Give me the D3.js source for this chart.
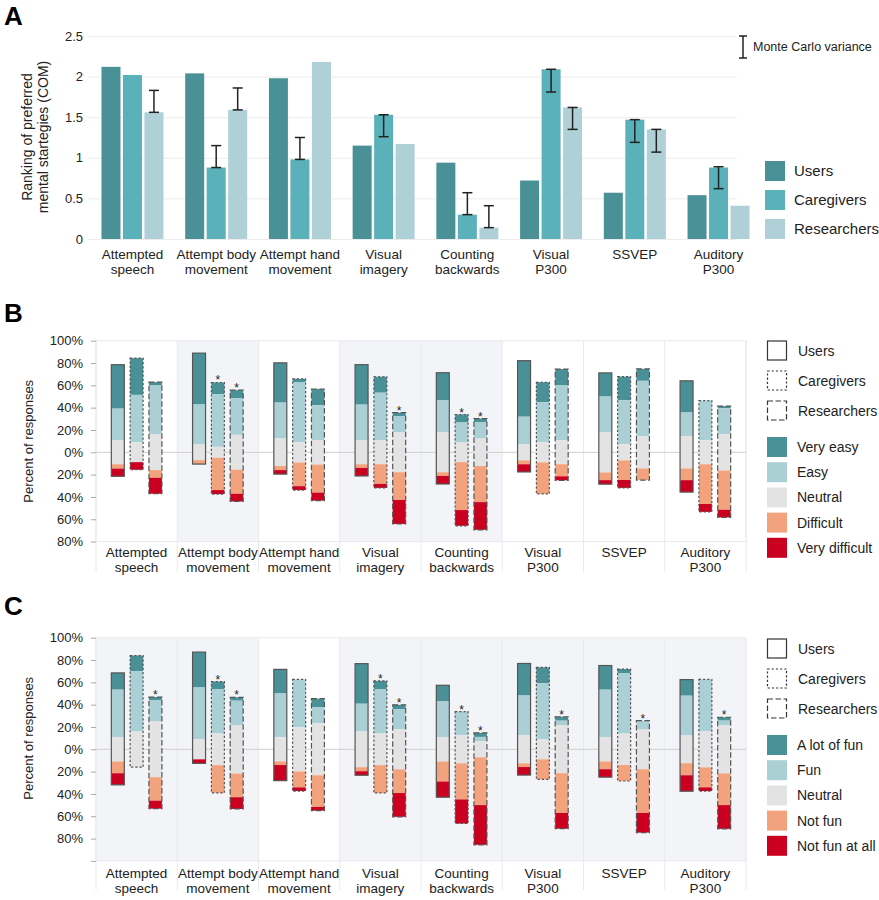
<!DOCTYPE html>
<html><head><meta charset="utf-8">
<script src="https://cdn.jsdelivr.net/npm/d3@7"></script>
<style>body{margin:0;background:#fff;} svg{display:block;font-family:"Liberation Sans",Arial,Helvetica,sans-serif;}</style>
</head><body><svg id="c" width="879" height="900"></svg>
<script>
// ---------------- DATA ----------------
const categories = ["Attempted speech","Attempt body movement","Attempt hand movement","Visual imagery","Counting backwards","Visual P300","SSVEP","Auditory P300"];
const categoryLines = [["Attempted","speech"],["Attempt body","movement"],["Attempt hand","movement"],["Visual","imagery"],["Counting","backwards"],["Visual","P300"],["SSVEP"],["Auditory","P300"]];
const groups = ["Users","Caregivers","Researchers"];

// Panel A: ranking of preferred mental strategies (COM)
const rankUsers       = [2.12,2.04,1.98,1.15,0.94,0.72,0.57,0.54];
const rankCaregivers  = [2.02,0.88,0.98,1.53,0.30,2.09,1.47,0.88];
const rankResearchers = [1.56,1.59,2.18,1.17,0.14,1.62,1.35,0.41];
// Monte Carlo variance [low, high] (null = none)
const mcUsers       = [null,null,null,null,null,null,null,null];
const mcCaregivers  = [null,[0.88,1.15],[0.98,1.25],[1.26,1.53],[0.30,0.57],[1.81,2.09],[1.19,1.47],[0.62,0.89]];
const mcResearchers = [[1.56,1.83],[1.59,1.86],null,null,[0.14,0.41],[1.35,1.62],[1.07,1.35],null];
const rankTicks = [0,0.5,1,1.5,2,2.5];

// Panel B: ease  [Very easy, Easy, Neutral, Difficult, Very difficult] (%)
const easeLabels = ["Very easy","Easy","Neutral","Difficult","Very difficult"];
const easeUsers = [[39.4,28.4,21.4,3.9,6.9],[46,35.8,14.1,3.5,0],[35.6,32.2,24.7,3.6,3.6],[35.8,32,21.4,3.3,7.2],[24.7,28.7,35.8,3.3,7.2],[50.2,24.7,14.4,3.5,6.9],[21.2,31.9,36.1,6.9,3.6],[28.4,21.2,28.9,10.5,10.7]];
const easeCaregivers = [[32.9,42.6,17.7,0,6.8],[10.5,47.1,9.9,28.9,3.6],[3.3,53.4,18.3,21.2,3.5],[14.3,42.7,21.4,17.6,3.6],[7.1,17.9,17.7,42.9,14.1],[17.9,35.8,18,28.3,0],[21.2,39.4,14.4,17.6,7.1],[0,35.6,21.4,35.6,7.1]];
const easeResearchers = [[3,43.9,31.9,6.9,14.3],[7.1,32.9,31.3,21.5,6.9],[14.6,31.1,22,25.1,7.2],[3.3,14.3,35.8,24.8,21.5],[3.2,14.7,24.7,32.3,24.8],[14.3,49.6,21.4,10.8,3.6],[10.7,49.6,28.9,10.5,0],[1.8,23.3,32.5,35.2,6.9]];
const easeStarCaregivers  = [0,1,0,0,1,0,0,0];
const easeStarResearchers = [0,1,0,1,1,0,0,0];
const easeShaded = [0,1,0,1,1,0,0,0];
const easeTicks = [-80,-60,-40,-20,0,20,40,60,80,100];

// Panel C: fun [A lot of fun, Fun, Neutral, Not fun, Not fun at all] (%)
const funLabels = ["A lot of fun","Fun","Neutral","Not fun","Not fun at all"];
const funUsers = [[15,42.5,21.9,10.5,10.4],[31.7,46.4,18,0,3.6],[21.6,39.2,21.6,3.3,14],[35.9,24.8,32.1,3.6,3.6],[14.4,32,21.9,17.9,14.1],[28.7,35.6,25.2,3.3,7.2],[21.6,42.5,21.9,6.9,7.1],[14.4,35.6,24.9,10.8,14.3]];
const funCaregivers = [[14,53.9,32.1,0,0],[6.9,39.5,28.5,24.8,0],[0,42.8,39.6,14.3,3.3],[7.5,39.5,28.5,24.8,0],[0,21.2,25.2,32.3,21.6],[14.1,50.3,18,17.9,0],[3.6,54.2,28.2,14.3,0],[0,46.4,32.4,17.9,3.3]];
const funResearchers = [[3,18.8,50,21,7.2],[3,21.8,43.5,21.2,10.5],[7.5,14.6,46.5,28.4,3.3],[3.9,17.9,36,21.2,21.3],[3.6,3.9,14.4,42.8,35.6],[3.5,4.2,42.9,35.6,14.1],[0,7.8,35.7,39.2,17.6],[3,4.1,43.2,28.4,21.3]];
const funStarCaregivers  = [0,1,0,1,1,0,0,0];
const funStarResearchers = [1,1,0,1,1,1,1,1];
const funShaded = [1,1,0,1,1,1,1,1];
const funTicks = [-100,-80,-60,-40,-20,0,20,40,60,80,100];

// ---------------- STYLE ----------------
const rankColors = ["#4a9197","#5ab1b9","#aed0d6"];
const likertColors = ["#4a9197","#aacfd5","#e3e3e3","#f2a27d","#cb0020"];
const dashes = [null,"2.2,2","5.5,2.5"];
const outlineColor = "#555";
const shadeColor = "#f3f4f7";
const sepColor = "#e9eaee";

const svg = d3.select("#c");

// ---------------- PANEL A ----------------
(function(){
  const x = d3.scaleBand().domain(categories).range([90.6,760.4]);
  const xs = d3.scaleBand().domain(groups).range([-31,31]).paddingInner(0.116);
  const y = d3.scaleLinear().domain([0,2.5]).range([239,36]);
  const g = svg.append("g");
  g.append("text").attr("x",4).attr("y",25).attr("font-size",26).attr("font-weight","bold").text("A");
  const ax = g.append("g").attr("transform","translate(88,0)")
    .call(d3.axisLeft(y).tickValues(rankTicks).tickFormat(d3.format("~g")).tickSize(-(737-88)).tickPadding(5));
  ax.select(".domain").remove();
  ax.selectAll(".tick line").attr("stroke","#ececec");
  ax.selectAll(".tick text").attr("font-size",13).attr("fill","#222").attr("font-family","Liberation Sans, Arial, sans-serif");
  const title = g.append("text").attr("transform","translate(37,137) rotate(-90)").attr("text-anchor","middle").attr("font-size",14).attr("fill","#222");
  title.append("tspan").attr("x",0).attr("dy","-0.35em").text("Ranking of preferred");
  title.append("tspan").attr("x",0).attr("dy","1.15em").text("mental startegies (COM)");
  const series = [rankUsers,rankCaregivers,rankResearchers];
  const mc = [mcUsers,mcCaregivers,mcResearchers];
  series.forEach((vals,si)=>{
    g.selectAll(null).data(vals).enter().append("rect")
      .attr("x",(d,i)=>x(categories[i])+x.bandwidth()/2+xs(groups[si]))
      .attr("width",xs.bandwidth())
      .attr("y",d=>y(d)).attr("height",d=>y(0)-y(d))
      .attr("fill",rankColors[si]);
  });
  mc.forEach((arr,si)=>{
    arr.forEach((e,i)=>{
      if(!e) return;
      const cx = x(categories[i])+x.bandwidth()/2+xs(groups[si])+xs.bandwidth()/2;
      const eg = g.append("g").attr("stroke","#222").attr("stroke-width",1.5);
      eg.append("line").attr("x1",cx).attr("x2",cx).attr("y1",y(e[0])).attr("y2",y(e[1]));
      eg.append("line").attr("x1",cx-5).attr("x2",cx+5).attr("y1",y(e[0])).attr("y2",y(e[0]));
      eg.append("line").attr("x1",cx-5).attr("x2",cx+5).attr("y1",y(e[1])).attr("y2",y(e[1]));
    });
  });
  categoryLines.forEach((lines,i)=>{
    const t = g.append("text").attr("text-anchor","middle").attr("font-size",13.5).attr("fill","#222");
    lines.forEach((l,j)=>t.append("tspan").attr("x",x(categories[i])+x.bandwidth()/2).attr("y",259+j*15).text(l));
  });
  // Monte Carlo legend
  const lg = g.append("g").attr("stroke","#222").attr("stroke-width",1.5);
  lg.append("line").attr("x1",743).attr("x2",743).attr("y1",36).attr("y2",58);
  lg.append("line").attr("x1",739).attr("x2",747).attr("y1",36).attr("y2",36);
  lg.append("line").attr("x1",739).attr("x2",747).attr("y1",58).attr("y2",58);
  g.append("text").attr("x",753).attr("y",51).attr("font-size",12.5).attr("fill","#222").text("Monte Carlo variance");
  groups.forEach((n,i)=>{
    g.append("rect").attr("x",765).attr("y",161+i*29).attr("width",20).attr("height",20).attr("fill",rankColors[i]);
    g.append("text").attr("x",794).attr("y",176+i*29).attr("font-size",15).attr("fill","#222").text(n);
  });
})();

// ---------------- LIKERT PANELS ----------------
function likertPanel(opts){
  const {letter, letterY, top, zeroDomain, ticks, labelY, sepBottom, data, starsC, starsR, shaded, legendLabels, legTop} = opts;
  const g = svg.append("g");
  const x = d3.scaleBand().domain(categories).range([96,746]);
  const xs = d3.scaleBand().domain(groups).range([-25.3,25.3]).paddingInner(0.31);
  const y = d3.scaleLinear().domain(zeroDomain).range([top+(100-zeroDomain[0])*1.116, top]);
  const yBottom = y(zeroDomain[0]);
  g.append("text").attr("x",4).attr("y",letterY).attr("font-size",26).attr("font-weight","bold").text(letter);
  g.selectAll(null).data(categories).enter().append("rect")
    .attr("x",d=>x(d)).attr("width",x.bandwidth()).attr("y",top).attr("height",yBottom-top)
    .attr("fill",(d,i)=>shaded[i]?shadeColor:"#fff");
  g.append("rect").attr("x",96).attr("y",top).attr("width",650).attr("height",yBottom-top).attr("fill","none").attr("stroke",sepColor);
  const bounds = categories.map(c=>x(c)).concat([x.range()[1]]);
  g.selectAll(null).data(bounds).enter().append("line")
    .attr("x1",d=>d).attr("x2",d=>d).attr("y1",top).attr("y2",sepBottom).attr("stroke",sepColor);
  g.append("line").attr("x1",96).attr("x2",746).attr("y1",y(0)).attr("y2",y(0)).attr("stroke","#cfcfcf");
  const ax = g.append("g").attr("transform","translate(96,0)")
    .call(d3.axisLeft(y).tickValues(ticks).tickFormat(d=>Math.abs(d)<=80||d===100?Math.abs(d)+"%":"").tickSize(5).tickPadding(8));
  ax.select(".domain").remove();
  ax.selectAll(".tick line").attr("stroke","#aaa");
  ax.selectAll(".tick text").attr("font-size",13).attr("fill","#222").attr("font-family","Liberation Sans, Arial, sans-serif");
  g.append("text").attr("transform",`translate(33,${y(0)-11}) rotate(-90)`).attr("text-anchor","middle").attr("font-size",13).attr("fill","#222").text("Percent of responses");
  data.forEach((series,si)=>{
    series.forEach((v,i)=>{
      const [a,b,n,c,d] = v;
      const h = n/2;
      const segs = [[h+b,h+b+a],[h,h+b],[-h,h],[-h-c,-h],[-h-c-d,-h-c]];
      const bx = x(categories[i])+x.bandwidth()/2+xs(groups[si]);
      const bw = xs.bandwidth();
      segs.forEach((s,k)=>{
        if(s[1]-s[0] <= 0) return;
        g.append("rect").attr("x",bx).attr("width",bw).attr("y",y(s[1])).attr("height",y(s[0])-y(s[1])).attr("fill",likertColors[k]);
      });
      const topV = h+b+a, botV = -h-c-d;
      g.append("rect").attr("x",bx).attr("width",bw).attr("y",y(topV)).attr("height",y(botV)-y(topV))
        .attr("fill","none").attr("stroke",outlineColor).attr("stroke-width",1.2)
        .attr("stroke-dasharray",dashes[si]);
      const star = si===1?starsC[i]:si===2?starsR[i]:0;
      if(star){
        g.append("text").attr("x",bx+bw/2).attr("y",y(topV)+2).attr("text-anchor","middle").attr("font-size",12).attr("fill","#222").text("*");
      }
    });
  });
  categoryLines.forEach((lines,i)=>{
    const t = g.append("text").attr("text-anchor","middle").attr("font-size",13.5).attr("fill","#222");
    lines.forEach((l,j)=>t.append("tspan").attr("x",x(categories[i])+x.bandwidth()/2).attr("y",labelY+j*15).text(l));
  });
  groups.forEach((n,i)=>{
    g.append("rect").attr("x",767.5).attr("y",legTop+i*30).attr("width",19).attr("height",19)
      .attr("fill","none").attr("stroke","#333").attr("stroke-width",1.2).attr("stroke-dasharray",dashes[i]);
    g.append("text").attr("x",798).attr("y",legTop+i*30+15).attr("font-size",14).attr("fill","#222").text(n);
  });
  legendLabels.forEach((n,i)=>{
    g.append("rect").attr("x",767).attr("y",legTop+96+i*25.2).attr("width",20).attr("height",20).attr("fill",likertColors[i]);
    g.append("text").attr("x",797).attr("y",legTop+96+i*25.2+15).attr("font-size",14).attr("fill","#222").text(n);
  });
}

likertPanel({letter:"B", letterY:322, top:340.7, zeroDomain:[-80,100], ticks:easeTicks, labelY:557, sepBottom:572,
  data:[easeUsers,easeCaregivers,easeResearchers], starsC:easeStarCaregivers, starsR:easeStarResearchers,
  shaded:easeShaded, legendLabels:easeLabels, legTop:341});
likertPanel({letter:"C", letterY:615, top:637.7, zeroDomain:[-100,100], ticks:funTicks, labelY:878, sepBottom:890,
  data:[funUsers,funCaregivers,funResearchers], starsC:funStarCaregivers, starsR:funStarResearchers,
  shaded:funShaded, legendLabels:funLabels, legTop:639});
</script>
</body></html>
